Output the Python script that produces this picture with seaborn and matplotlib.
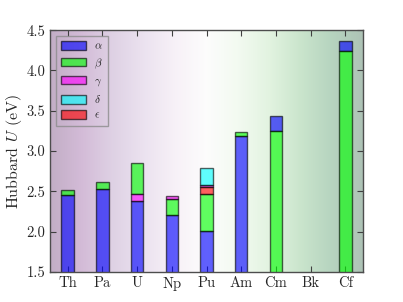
import numpy as np
import pandas as pd
import matplotlib
matplotlib.use("Agg")
import matplotlib.pyplot as plt
import seaborn as sns

elements = ["Th", "Pa", "U", "Np", "Pu", "Am", "Cm", "Bk", "Cf"]
phases = ["alpha", "beta", "gamma", "delta", "epsilon"]
phase_labels = [r"$\alpha$", r"$\beta$", r"$\gamma$", r"$\delta$", r"$\epsilon$"]
phase_colors = ["blue", "lime", "magenta", "cyan", "red"]

# Hubbard U (eV) per phase, NaN = phase not present
u_alpha = [2.45, 2.53, 2.38, 2.20, 2.01, 3.19, 3.43, np.nan, 4.36]
u_beta = [2.51, 2.62, 2.85, 2.41, 2.47, 3.23, 3.25, np.nan, 4.24]
u_gamma = [np.nan, np.nan, 2.47, 2.44, 2.58, np.nan, np.nan, np.nan, np.nan]
u_delta = [np.nan, np.nan, np.nan, np.nan, 2.79, np.nan, np.nan, np.nan, np.nan]
u_epsilon = [np.nan, np.nan, np.nan, np.nan, 2.55, np.nan, np.nan, np.nan, np.nan]

sns.set_style("ticks")
plt.rcParams["font.family"] = "serif"
plt.rcParams["font.serif"] = ["cmr10", "DejaVu Serif"]
plt.rcParams["mathtext.fontset"] = "cm"
plt.rcParams["axes.formatter.use_mathtext"] = True

df = pd.DataFrame({"element": elements, "alpha": u_alpha, "beta": u_beta,
                   "gamma": u_gamma, "delta": u_delta, "epsilon": u_epsilon})
long = df.melt(id_vars="element", var_name="phase", value_name="U").dropna()

# segments stacked in order of increasing U within each element
long = long.sort_values(["element", "U"])
long["bottom"] = long.groupby("element")["U"].shift(1).fillna(0.0)
long["height"] = long["U"] - long["bottom"]

fig = plt.figure(figsize=(4.03, 3.02), dpi=100)
ax = fig.add_axes([0.125, 0.1, 0.775, 0.8])

# gradient background purple -> white -> green
grad = np.linspace(0.1, 0.9, 256).reshape(1, -1)
ax.imshow(grad, cmap="PRGn", aspect="auto", alpha=0.32,
          extent=[-0.5, 8.5, 1.5, 4.5], zorder=0)

pos = {e: i for i, e in enumerate(elements)}
for ph, lab, col in zip(phases, phase_labels, phase_colors):
    sub = long[long["phase"] == ph].copy()
    sub["pos"] = sub["element"].map(pos)
    sub = sub.sort_values("pos")
    sns.barplot(data=sub, x="element", y="height", order=elements,
                bottom=sub["bottom"].to_numpy(), color=col, width=0.36,
                alpha=0.62, edgecolor="black", linewidth=1.0, ax=ax,
                label=lab, errorbar=None, saturation=1, zorder=2)

ax.set_xlim(-0.5, 8.5)
ax.set_ylim(1.5, 4.5)
ax.set_yticks(np.arange(1.5, 4.51, 0.5))
ax.set_yticklabels([f"{v:.1f}" for v in np.arange(1.5, 4.51, 0.5)], fontsize=10.5)
ax.set_xticks(range(len(elements)))
ax.set_xticklabels(elements, fontsize=10.5)
ax.set_xlabel("")
ax.set_ylabel(r"Hubbard $U$ (eV)", fontsize=11.5)
ax.yaxis.set_label_coords(-0.085, 0.5)
ax.tick_params(direction="in", top=True, right=True, length=4, width=0.8, color="0.25")
for s in ax.spines.values():
    s.set_visible(True)
    s.set_color("0.3")
    s.set_linewidth(1.0)

leg = ax.legend(loc="upper left", fontsize=8, frameon=True, fancybox=False,
                handlelength=2.2, handleheight=0.8, labelspacing=0.45, borderpad=0.5,
                handletextpad=0.7)
leg.get_frame().set_edgecolor("0.55")
leg.get_frame().set_facecolor("none")

fig.savefig("out.png", dpi=100)
